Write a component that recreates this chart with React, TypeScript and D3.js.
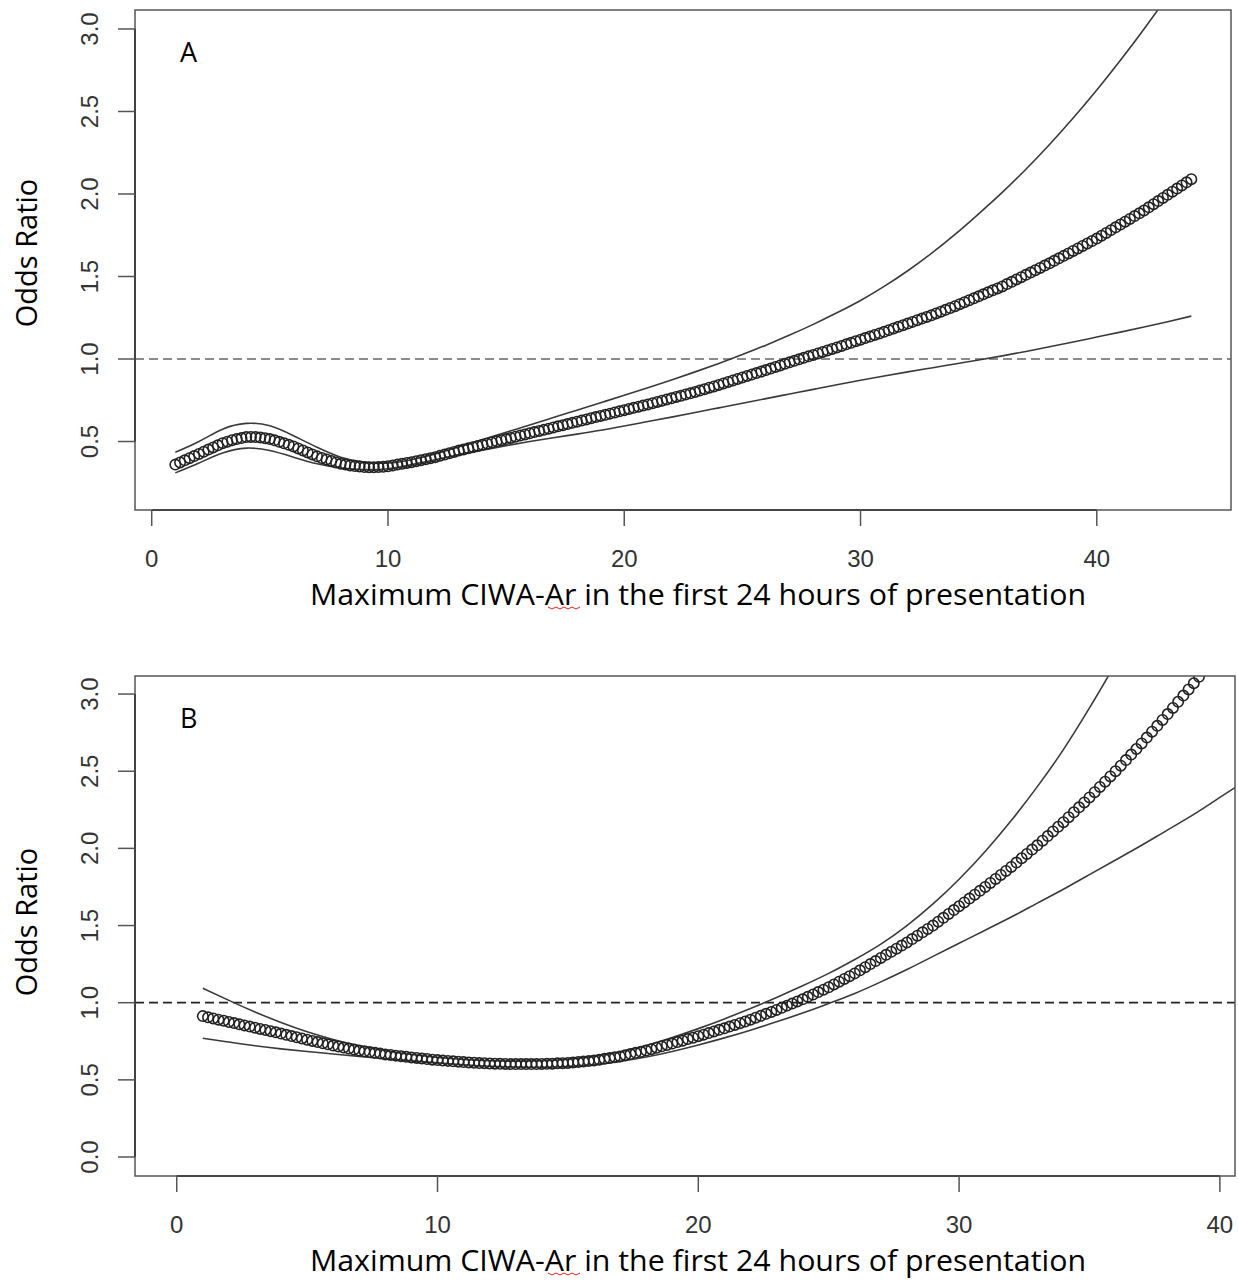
import React from "react";
import * as d3 from "d3";

// ---------------- DATA ----------------
// Panel A: fitted odds ratio (circles), x from 1 to 44 in steps of 0.2
const aCenterX0 = 1;
const aCenterStep = 0.2;
const aCenterOR = [
  0.360, 0.373, 0.386, 0.399, 0.412,
  0.425, 0.438, 0.451, 0.464, 0.477,
  0.490, 0.499, 0.508, 0.515, 0.521,
  0.527, 0.528, 0.527, 0.524, 0.520,
  0.515, 0.507, 0.498, 0.489, 0.480,
  0.470, 0.458, 0.446, 0.434, 0.422,
  0.410, 0.400, 0.391, 0.382, 0.373,
  0.365, 0.360, 0.355, 0.351, 0.348,
  0.345, 0.344, 0.344, 0.345, 0.347,
  0.350, 0.355, 0.360, 0.365, 0.370,
  0.375, 0.381, 0.387, 0.393, 0.399,
  0.405, 0.413, 0.421, 0.429, 0.437,
  0.445, 0.452, 0.459, 0.466, 0.473,
  0.480, 0.487, 0.494, 0.501, 0.508,
  0.515, 0.522, 0.529, 0.536, 0.543,
  0.550, 0.557, 0.564, 0.571, 0.578,
  0.585, 0.592, 0.599, 0.606, 0.613,
  0.620, 0.627, 0.634, 0.641, 0.648,
  0.655, 0.662, 0.669, 0.676, 0.683,
  0.690, 0.697, 0.704, 0.711, 0.718,
  0.725, 0.732, 0.740, 0.747, 0.755,
  0.762, 0.770, 0.777, 0.785, 0.792,
  0.800, 0.809, 0.817, 0.826, 0.834,
  0.843, 0.852, 0.861, 0.870, 0.879,
  0.888, 0.897, 0.906, 0.915, 0.924,
  0.933, 0.942, 0.952, 0.961, 0.971,
  0.980, 0.989, 0.998, 1.007, 1.016,
  1.025, 1.034, 1.043, 1.052, 1.061,
  1.070, 1.079, 1.089, 1.098, 1.108,
  1.117, 1.127, 1.136, 1.146, 1.155,
  1.165, 1.175, 1.185, 1.195, 1.205,
  1.215, 1.225, 1.235, 1.245, 1.255,
  1.265, 1.276, 1.287, 1.298, 1.309,
  1.320, 1.332, 1.344, 1.356, 1.368,
  1.380, 1.392, 1.404, 1.416, 1.428,
  1.440, 1.454, 1.468, 1.482, 1.496,
  1.510, 1.524, 1.538, 1.552, 1.566,
  1.580, 1.595, 1.610, 1.625, 1.640,
  1.655, 1.670, 1.685, 1.700, 1.715,
  1.730, 1.747, 1.764, 1.781, 1.798,
  1.815, 1.832, 1.849, 1.866, 1.883,
  1.900, 1.919, 1.938, 1.957, 1.976,
  1.995, 2.014, 2.033, 2.052, 2.071,
  2.090,
];
// Panel A confidence limits at x = 1..44
const aCiX = [
  1, 2, 3, 4, 5, 6, 7, 8, 9, 10, 11, 12, 13, 14, 15, 16, 17, 18, 19, 20, 21, 22,
  23, 24, 25, 26, 27, 28, 29, 30, 31, 32, 33, 34, 35, 36, 37, 38, 39, 40, 41, 42, 43, 44,
];
const aUpperOR = [
  0.435, 0.50, 0.575, 0.61, 0.595, 0.535, 0.465, 0.405, 0.375, 0.37,
  0.39, 0.425, 0.468, 0.512, 0.556, 0.60, 0.645, 0.69, 0.735, 0.78,
  0.826, 0.873, 0.922, 0.973, 1.027, 1.084, 1.145, 1.21, 1.28, 1.355,
  1.44, 1.535, 1.64, 1.755, 1.88, 2.01, 2.15, 2.30, 2.46, 2.63,
  2.81, 3.00, 3.20, 3.41,
];
const aLowerOR = [
  0.31, 0.37, 0.43, 0.46, 0.445, 0.405, 0.365, 0.34, 0.33, 0.335,
  0.36, 0.39, 0.42, 0.448, 0.475, 0.50, 0.523, 0.545, 0.568, 0.594,
  0.621, 0.648, 0.676, 0.704, 0.732, 0.760, 0.788, 0.816, 0.844, 0.871,
  0.897, 0.922, 0.946, 0.970, 0.994, 1.019, 1.046, 1.074, 1.103, 1.133,
  1.163, 1.194, 1.226, 1.26,
];

// Panel B: fitted odds ratio (circles), x from 1 in steps of 0.2
const bCenterX0 = 1;
const bCenterStep = 0.2;
const bCenterOR = [
  0.913, 0.905, 0.898, 0.890, 0.883,
  0.875, 0.868, 0.860, 0.853, 0.845,
  0.838, 0.830, 0.823, 0.815, 0.808,
  0.800, 0.792, 0.784, 0.776, 0.768,
  0.760, 0.752, 0.745, 0.737, 0.730,
  0.722, 0.716, 0.709, 0.703, 0.696,
  0.690, 0.685, 0.680, 0.675, 0.670,
  0.665, 0.661, 0.657, 0.653, 0.649,
  0.645, 0.642, 0.638, 0.635, 0.631,
  0.628, 0.625, 0.623, 0.620, 0.618,
  0.615, 0.613, 0.611, 0.609, 0.608,
  0.606, 0.605, 0.604, 0.603, 0.602,
  0.602, 0.602, 0.602, 0.602, 0.602,
  0.603, 0.604, 0.605, 0.607, 0.608,
  0.610, 0.613, 0.616, 0.619, 0.622,
  0.625, 0.630, 0.636, 0.641, 0.647,
  0.652, 0.660, 0.667, 0.675, 0.682,
  0.690, 0.699, 0.708, 0.717, 0.726,
  0.735, 0.745, 0.754, 0.764, 0.773,
  0.783, 0.793, 0.803, 0.814, 0.824,
  0.834, 0.845, 0.856, 0.867, 0.878,
  0.890, 0.903, 0.915, 0.928, 0.940,
  0.953, 0.967, 0.981, 0.994, 1.008,
  1.022, 1.038, 1.053, 1.069, 1.084,
  1.100, 1.118, 1.136, 1.154, 1.172,
  1.190, 1.210, 1.230, 1.250, 1.270,
  1.290, 1.310, 1.330, 1.350, 1.370,
  1.390, 1.412, 1.434, 1.456, 1.478,
  1.500, 1.525, 1.550, 1.575, 1.600,
  1.625, 1.650, 1.675, 1.700, 1.725,
  1.750, 1.776, 1.802, 1.828, 1.854,
  1.880, 1.908, 1.936, 1.964, 1.992,
  2.020, 2.050, 2.080, 2.110, 2.140,
  2.170, 2.202, 2.234, 2.266, 2.298,
  2.330, 2.364, 2.398, 2.432, 2.466,
  2.500, 2.536, 2.572, 2.608, 2.644,
  2.680, 2.718, 2.756, 2.794, 2.832,
  2.870, 2.910, 2.950, 2.990, 3.030,
  3.070, 3.112, 3.154, 3.196,
];
// Panel B confidence limits
const bUpperX = [
  1, 2, 3, 4, 5, 6, 7, 8, 9, 10, 11, 12, 13, 14, 15, 16, 17, 18, 19, 20, 21, 22,
  23, 24, 25, 26, 27, 28, 29, 30, 31, 32, 33, 34, 35, 36, 37,
];
const bUpperOR = [
  1.094, 1.015, 0.94, 0.872, 0.812, 0.762, 0.721, 0.689, 0.664, 0.645,
  0.632, 0.624, 0.621, 0.624, 0.634, 0.652, 0.68, 0.722, 0.774, 0.832,
  0.895, 0.962, 1.034, 1.11, 1.19, 1.28, 1.38, 1.50, 1.64, 1.80,
  1.98, 2.18, 2.40, 2.64, 2.91, 3.20, 3.52,
];
const bLowerX = [
  1, 2, 3, 4, 5, 6, 7, 8, 9, 10, 11, 12, 13, 14, 15, 16, 17, 18, 19, 20, 21, 22,
  23, 24, 25, 26, 27, 28, 29, 30, 31, 32, 33, 34, 35, 36, 37, 38, 39, 40, 41,
];
const bLowerOR = [
  0.77, 0.745, 0.721, 0.701, 0.684, 0.668, 0.652, 0.637, 0.623, 0.61,
  0.598, 0.588, 0.583, 0.582, 0.587, 0.60, 0.62, 0.648, 0.684, 0.726,
  0.772, 0.822, 0.876, 0.933, 0.995, 1.06, 1.135, 1.215, 1.30, 1.385,
  1.47, 1.555, 1.645, 1.735, 1.83, 1.925, 2.02, 2.12, 2.22, 2.33, 2.44,
];

// tick labels
const aXTicks = [0, 10, 20, 30, 40];
const aYTicks = [0.5, 1.0, 1.5, 2.0, 2.5, 3.0];
const bXTicks = [0, 10, 20, 30, 40];
const bYTicks = [0.0, 0.5, 1.0, 1.5, 2.0, 2.5, 3.0];
const refOR = 1.0;

const xTitle = "Maximum CIWA-Ar in the first 24 hours of presentation";
const yTitle = "Odds Ratio";

// ---------------- RENDER ----------------
type Box = { left: number; right: number; top: number; bottom: number };

function Panel(props: {
  id: string;
  box: Box;
  xDomain: [number, number];
  yDomain: [number, number];
  xTicks: number[];
  yTicks: number[];
  center: number[];
  centerX0: number;
  centerStep: number;
  upX: number[];
  up: number[];
  loX: number[];
  lo: number[];
  letter: string;
  dashColor: string;
  yTitleY: number;
}) {
  const { box } = props;
  const x = d3.scaleLinear().domain(props.xDomain).range([box.left, box.right]);
  const y = d3.scaleLinear().domain(props.yDomain).range([box.bottom, box.top]);
  const line = d3
    .line<[number, number]>()
    .x((d) => x(d[0]))
    .y((d) => y(d[1]))
    .curve(d3.curveNatural);
  const upPts = props.upX.map((v, i) => [v, props.up[i]] as [number, number]);
  const loPts = props.loX.map((v, i) => [v, props.lo[i]] as [number, number]);
  const cPts = props.center.map(
    (v, i) => [props.centerX0 + i * props.centerStep, v] as [number, number]
  );
  const clipId = `clip-${props.id}`;
  const tickFont = "'Liberation Sans', Arial, Helvetica, sans-serif";
  const titleFont = "'Open Sans', 'Noto Sans', sans-serif";
  const xTitleY = box.bottom + 95;
  const squiggle = d3.range(0, 9).map((i) => [548 + i * 4, xTitleY + 2 + (i % 2 === 0 ? 0 : 2)]);
  return (
    <g>
      <defs>
        <clipPath id={clipId}>
          <rect x={box.left} y={box.top} width={box.right - box.left} height={box.bottom - box.top} />
        </clipPath>
      </defs>
      <g clipPath={`url(#${clipId})`}>
        <line
          x1={box.left}
          x2={box.right}
          y1={y(refOR)}
          y2={y(refOR)}
          stroke={props.dashColor}
          strokeWidth={1.7}
          strokeDasharray="9,5"
        />
        <path d={line(upPts) || ""} fill="none" stroke="#3a3a3a" strokeWidth={1.6} />
        <path d={line(loPts) || ""} fill="none" stroke="#3a3a3a" strokeWidth={1.6} />
        {cPts.map((d, i) => (
          <circle key={i} cx={x(d[0])} cy={y(d[1])} r={5.2} fill="none" stroke="#222" strokeWidth={1.6} />
        ))}
      </g>
      <rect
        x={box.left}
        y={box.top}
        width={box.right - box.left}
        height={box.bottom - box.top}
        fill="none"
        stroke="#555"
        strokeWidth={1.5}
      />
      {/* x axis */}
      <line
        x1={x(props.xTicks[0])}
        x2={x(props.xTicks[props.xTicks.length - 1])}
        y1={box.bottom}
        y2={box.bottom}
        stroke="#333"
        strokeWidth={1.6}
      />
      {props.xTicks.map((t) => (
        <g key={t}>
          <line x1={x(t)} x2={x(t)} y1={box.bottom} y2={box.bottom + 16} stroke="#555" strokeWidth={1.5} />
          <text
            x={x(t)}
            y={box.bottom + 57}
            textAnchor="middle"
            fontFamily={tickFont}
            fontSize={24}
            fill="#333"
          >
            {t}
          </text>
        </g>
      ))}
      {/* y axis */}
      <line
        x1={box.left}
        x2={box.left}
        y1={y(props.yTicks[0])}
        y2={y(props.yTicks[props.yTicks.length - 1])}
        stroke="#333"
        strokeWidth={1.6}
      />
      {props.yTicks.map((t) => (
        <g key={t}>
          <line x1={box.left - 17} x2={box.left} y1={y(t)} y2={y(t)} stroke="#555" strokeWidth={1.5} />
          <text
            transform={`translate(98,${y(t)}) rotate(-90)`}
            textAnchor="middle"
            fontFamily={tickFont}
            fontSize={24}
            fill="#333"
          >
            {t.toFixed(1)}
          </text>
        </g>
      ))}
      <text x={box.left + 45} y={box.top + 52} fontFamily={titleFont} fontSize={27} fill="#000">
        {props.letter}
      </text>
      <text
        x={698}
        y={xTitleY}
        textAnchor="middle"
        fontFamily={titleFont}
        fontSize={29}
        textLength={776}
        lengthAdjust="spacingAndGlyphs"
        fill="#000"
      >
        {xTitle}
      </text>
      <path
        d={d3.line()(squiggle as [number, number][]) || ""}
        fill="none"
        stroke="#e02020"
        strokeWidth={1}
      />
      <text
        transform={`translate(37,${props.yTitleY}) rotate(-90)`}
        textAnchor="middle"
        fontFamily={titleFont}
        fontSize={29}
        fill="#000"
      >
        {yTitle}
      </text>
    </g>
  );
}

export default function App() {
  return (
    <div>
      <style>{`body{margin:0;background:#fff;}`}</style>
      <svg width={1238} height={1283} style={{ display: "block", background: "#fff" }}>
        <Panel
          id="a"
          box={{ left: 135, right: 1231, top: 10, bottom: 510 }}
          xDomain={[-0.707, 45.68]}
          yDomain={[0.085, 3.115]}
          xTicks={aXTicks}
          yTicks={aYTicks}
          center={aCenterOR}
          centerX0={aCenterX0}
          centerStep={aCenterStep}
          upX={aCiX}
          up={aUpperOR}
          loX={aCiX}
          lo={aLowerOR}
          letter="A"
          dashColor="#666"
          yTitleY={253}
        />
        <Panel
          id="b"
          box={{ left: 135, right: 1235, top: 676, bottom: 1176 }}
          xDomain={[-1.6, 40.58]}
          yDomain={[-0.123, 3.117]}
          xTicks={bXTicks}
          yTicks={bYTicks}
          center={bCenterOR}
          centerX0={bCenterX0}
          centerStep={bCenterStep}
          upX={bUpperX}
          up={bUpperOR}
          loX={bLowerX}
          lo={bLowerOR}
          letter="B"
          dashColor="#222"
          yTitleY={922}
        />
      </svg>
    </div>
  );
}
